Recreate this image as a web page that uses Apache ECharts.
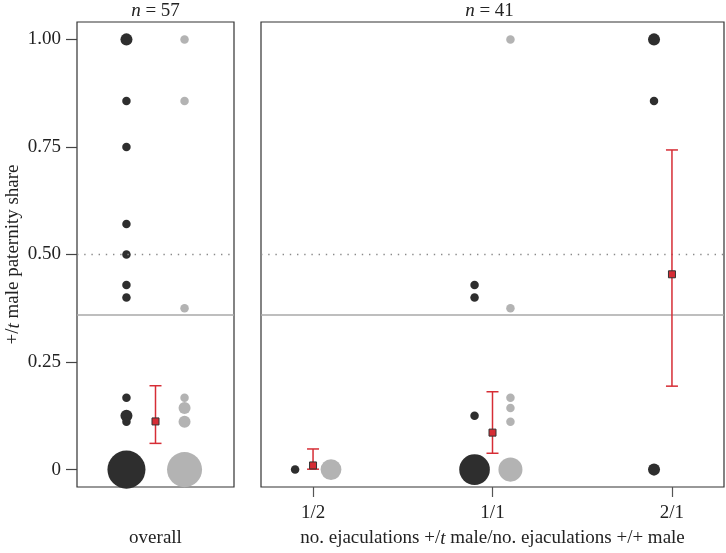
<!DOCTYPE html>
<html><head><meta charset="utf-8">
<script src="https://cdn.jsdelivr.net/npm/echarts@6/dist/echarts.min.js"></script>
<style>html,body{margin:0;padding:0;background:#fff}#c{width:726px;height:553px}</style>
</head><body><div id="c"></div>
<script>
// ---------- data ----------
const panelN = ['57', '41'];
const yTicks = [0, 0.25, 0.5, 0.75, 1];
const yTickLabels = ['0', '0.25', '0.50', '0.75', '1.00'];
const ratioCategories = ['1/2', '1/1', '2/1'];
const overallLabel = 'overall';
const xTitle = 'no. ejaculations +/{i|t} male/no. ejaculations +/+ male';
const yTitle = '+/{i|t} male paternity share';

// overall panel: dark points (y, count) and grey points (y, count)
const overallDarkY = [1, 0.857, 0.75, 0.571, 0.5, 0.429, 0.4, 0.167, 0.125, 0.111, 0];
const overallDarkN = [2, 1, 1, 1, 1, 1, 1, 1, 2, 1, 20];
const overallGreyY = [1, 0.857, 0.375, 0.167, 0.143, 0.111, 0];
const overallGreyN = [1, 1, 1, 1, 2, 2, 17];
const overallMean = [0.112];
const overallLow = [0.061];
const overallHigh = [0.195];

// ratio panel: category index, y, count
const ratioDarkCat = [0, 1, 1, 1, 1, 2, 2, 2];
const ratioDarkY = [0, 0.429, 0.4, 0.125, 0, 1, 0.857, 0];
const ratioDarkN = [1, 1, 1, 1, 13, 2, 1, 2];
const ratioGreyCat = [0, 1, 1, 1, 1, 1, 1];
const ratioGreyY = [0, 1, 0.375, 0.167, 0.143, 0.111, 0];
const ratioGreyN = [6, 1, 1, 1, 1, 1, 8];
const ratioMean = [0.0097, 0.086, 0.454];
const ratioLow = [0.001, 0.038, 0.194];
const ratioHigh = [0.048, 0.181, 0.743];

const nullShare = 0.358;
const halfShare = 0.5;

// ---------- style / layout ----------
const FONT = 'Liberation Serif';
const FS = 19;
const TXT = '#222';
const DARK = '#2e2e2e';
const GREY = '#b3b3b3';
const RED = '#d62d35';
const BASE = 8.5;
const G0 = {left: 77, top: 22, width: 157, height: 468};
const G1 = {left: 261, top: 22, width: 463, height: 468};
const Y_MIN = -0.0404, Y_MAX = 1.0404;
const leftOff = 0.185, rightOff = 0.1;

function sz(n) { return BASE * Math.sqrt(n); }

function pts(xs, ys, ns) {
  return ys.map((y, i) => ({value: [xs[i], y], symbolSize: sz(ns[i])}));
}

function errorBarItem(params, api) {
  const x = api.value(0), m = api.value(1), lo = api.value(2), hi = api.value(3);
  const pm = api.coord([x, m]), pl = api.coord([x, lo]), ph = api.coord([x, hi]);
  const cap = 6, sq = 3.5;
  const ls = {stroke: RED, lineWidth: 1.5};
  return {type: 'group', children: [
    {type: 'line', shape: {x1: pl[0], y1: pl[1], x2: ph[0], y2: ph[1]}, style: ls},
    {type: 'line', shape: {x1: pl[0] - cap, y1: pl[1], x2: pl[0] + cap, y2: pl[1]}, style: ls},
    {type: 'line', shape: {x1: ph[0] - cap, y1: ph[1], x2: ph[0] + cap, y2: ph[1]}, style: ls},
    {type: 'rect', shape: {x: pm[0] - sq, y: pm[1] - sq, width: 2 * sq, height: 2 * sq},
      style: {fill: RED, stroke: '#333', lineWidth: 1}}
  ]};
}

const refLines = {
  silent: true, symbol: 'none', label: {show: false},
  data: [
    {yAxis: nullShare, lineStyle: {color: '#a8a8a8', width: 1.6, type: 'solid'}},
    {yAxis: halfShare, lineStyle: {color: '#8a8a8a', width: 1.4, type: [1.4, 5.8]}}
  ]
};

const textBase = {fontFamily: FONT, fontSize: FS, color: TXT};
const rich = {i: {fontFamily: FONT, fontSize: FS, color: TXT, fontStyle: 'italic'}};

const overallX = 1;
const option = {
  animation: false,
  backgroundColor: '#fff',
  grid: [
    Object.assign({show: true, borderColor: '#333', borderWidth: 1.2, backgroundColor: 'transparent'}, G0),
    Object.assign({show: true, borderColor: '#333', borderWidth: 1.2, backgroundColor: 'transparent'}, G1)
  ],
  xAxis: [
    {type: 'value', gridIndex: 0, min: 0.5, max: 1.5, position: 'bottom',
      axisLine: {show: false, onZero: false}, axisTick: {show: false}, axisLabel: {show: false}, splitLine: {show: false},
      name: overallLabel, nameLocation: 'middle', nameGap: 42, nameTextStyle: textBase},
    {type: 'value', gridIndex: 1, min: 0.71, max: 3.29, position: 'bottom',
      axisLine: {show: false, onZero: false}, splitLine: {show: false},
      axisTick: {show: true, inside: false, length: 10, customValues: [1, 2, 3], lineStyle: {color: '#555', width: 1.2}},
      axisLabel: {show: true, customValues: [1, 2, 3], margin: 17, formatter: v => ratioCategories[Math.round(v) - 1],
        fontFamily: FONT, fontSize: FS, color: TXT},
      name: xTitle, nameLocation: 'middle', nameGap: 42,
      nameTextStyle: Object.assign({rich: rich}, textBase)}
  ],
  yAxis: [
    {type: 'value', gridIndex: 0, min: Y_MIN, max: Y_MAX,
      axisLine: {show: false, onZero: false}, splitLine: {show: false},
      axisTick: {show: true, length: 11, customValues: yTicks, lineStyle: {color: '#444', width: 1.2}},
      axisLabel: {show: true, customValues: yTicks, margin: 16,
        formatter: v => yTickLabels[yTicks.findIndex(t => Math.abs(t - v) < 1e-6)],
        fontFamily: FONT, fontSize: FS, color: TXT},
      name: yTitle, nameLocation: 'middle', nameGap: 54,
      nameTextStyle: Object.assign({rich: rich}, textBase)},
    {type: 'value', gridIndex: 1, min: Y_MIN, max: Y_MAX,
      axisLine: {show: false, onZero: false}, splitLine: {show: false}, axisTick: {show: false}, axisLabel: {show: false}}
  ],
  graphic: [
    {type: 'text', x: G0.left + G0.width / 2, y: 11,
      style: {text: '{i|n} = ' + panelN[0], align: 'center', verticalAlign: 'middle', rich: rich,
        fill: TXT, font: FS + 'px "' + FONT + '"'}},
    {type: 'text', x: G1.left + G1.width / 2 - 3, y: 11,
      style: {text: '{i|n} = ' + panelN[1], align: 'center', verticalAlign: 'middle', rich: rich,
        fill: TXT, font: FS + 'px "' + FONT + '"'}}
  ],
  series: [
    {type: 'scatter', xAxisIndex: 0, yAxisIndex: 0, symbol: 'circle', z: 3,
      itemStyle: {color: DARK, opacity: 1},
      data: pts(overallDarkY.map(() => overallX - leftOff), overallDarkY, overallDarkN),
      markLine: refLines},
    {type: 'scatter', xAxisIndex: 0, yAxisIndex: 0, symbol: 'circle', z: 3,
      itemStyle: {color: GREY, opacity: 1},
      data: pts(overallGreyY.map(() => overallX + leftOff), overallGreyY, overallGreyN)},
    {type: 'custom', xAxisIndex: 0, yAxisIndex: 0, z: 5, renderItem: errorBarItem,
      data: overallMean.map((m, i) => [overallX, m, overallLow[i], overallHigh[i]])},
    {type: 'scatter', xAxisIndex: 1, yAxisIndex: 1, symbol: 'circle', z: 3,
      itemStyle: {color: DARK, opacity: 1},
      data: pts(ratioDarkCat.map(c => c + 1 - rightOff), ratioDarkY, ratioDarkN),
      markLine: refLines},
    {type: 'scatter', xAxisIndex: 1, yAxisIndex: 1, symbol: 'circle', z: 3,
      itemStyle: {color: GREY, opacity: 1},
      data: pts(ratioGreyCat.map(c => c + 1 + rightOff), ratioGreyY, ratioGreyN)},
    {type: 'custom', xAxisIndex: 1, yAxisIndex: 1, z: 5, renderItem: errorBarItem,
      data: ratioMean.map((m, i) => [i + 1, m, ratioLow[i], ratioHigh[i]])}
  ]
};
const chart = echarts.init(document.getElementById('c'), null, {renderer: 'canvas'});
chart.setOption(option);
</script></body></html>
